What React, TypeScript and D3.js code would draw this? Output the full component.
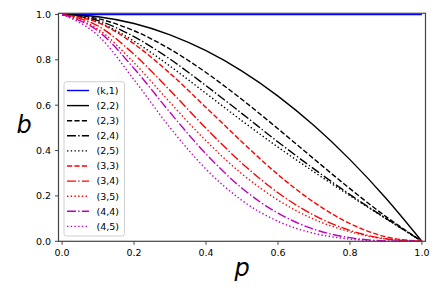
import * as d3 from "d3";

// p grid and curve values
const pValues = [0, 0.1, 0.2, 0.3, 0.4, 0.5, 0.6, 0.7, 0.8, 0.9, 1.0];
const bK1 = [1, 1, 1, 1, 1, 1, 1, 1, 1, 1, 1];
const b22 = [1, 0.99, 0.96, 0.91, 0.84, 0.75, 0.64, 0.51, 0.36, 0.19, 0];
const b23 = [1, 0.981, 0.928, 0.847, 0.744, 0.625, 0.496, 0.363, 0.232, 0.109, 0];
const b24 = [1, 0.973, 0.902, 0.803, 0.686, 0.563, 0.438, 0.319, 0.206, 0.101, 0];
const b25 = [1, 0.966, 0.882, 0.772, 0.652, 0.531, 0.415, 0.306, 0.201, 0.1, 0];
const b33 = [1, 0.964, 0.87, 0.74, 0.59, 0.438, 0.294, 0.172, 0.078, 0.02, 0];
const b34 = [1, 0.949, 0.824, 0.665, 0.498, 0.344, 0.214, 0.115, 0.048, 0.011, 0];
const b35 = [1, 0.935, 0.787, 0.612, 0.443, 0.297, 0.182, 0.097, 0.042, 0.01, 0];
const b44 = [1, 0.927, 0.762, 0.568, 0.385, 0.234, 0.124, 0.053, 0.016, 0.002, 0];
const b45 = [1, 0.907, 0.712, 0.501, 0.318, 0.18, 0.088, 0.035, 0.01, 0.001, 0];

const seriesLabels = ["(k,1)", "(2,2)", "(2,3)", "(2,4)", "(2,5)", "(3,3)", "(3,4)", "(3,5)", "(4,4)", "(4,5)"];
const xTicks = [0, 0.2, 0.4, 0.6, 0.8, 1.0];
const yTicks = [0, 0.2, 0.4, 0.6, 0.8, 1.0];

const W = 442;
const H = 294;
const left = 58.5, right = 425.5, top = 13.3, bottom = 241.3;
const font = "DejaVu Sans, sans-serif";
const frameColor = "#444";

const LW = 1.4;
const DASH = `${3.7 * LW},${1.6 * LW}`;
const DASHDOT = `${6.4 * LW},${1.6 * LW},${1 * LW},${1.6 * LW}`;
const DOT = `${1 * LW},${1.65 * LW}`;

const series = [
  { label: seriesLabels[0], values: bK1, color: "#0000ff", dash: "" },
  { label: seriesLabels[1], values: b22, color: "#000000", dash: "" },
  { label: seriesLabels[2], values: b23, color: "#000000", dash: DASH },
  { label: seriesLabels[3], values: b24, color: "#000000", dash: DASHDOT },
  { label: seriesLabels[4], values: b25, color: "#000000", dash: DOT },
  { label: seriesLabels[5], values: b33, color: "#ff0000", dash: DASH },
  { label: seriesLabels[6], values: b34, color: "#ff0000", dash: DASHDOT },
  { label: seriesLabels[7], values: b35, color: "#ff0000", dash: DOT },
  { label: seriesLabels[8], values: b44, color: "#bf00bf", dash: DASHDOT },
  { label: seriesLabels[9], values: b45, color: "#bf00bf", dash: DOT },
];

export default function App() {
  const x = d3.scaleLinear().domain([-0.01, 1.01]).range([left, right]);
  const y = d3.scaleLinear().domain([0, 1.005]).range([bottom, top]);

  const line = d3
    .line<number>()
    .x((_, i) => x(pValues[i]))
    .y((d) => y(d))
    .curve(d3.curveMonotoneX);

  // legend box
  const lgX = 64, lgY = 81.7, lgW = 60.5, lgH = 154.3;
  const rowY0 = 90.5, rowStep = 15.1;

  return (
    <svg width={W} height={H} style={{ position: "absolute", left: 0, top: 0 }} fontFamily={font}>
      <rect width={W} height={H} fill="#fff" />

      {series.map((s) => (
        <path
          key={s.label}
          d={line(s.values) ?? ""}
          fill="none"
          stroke={s.color}
          strokeWidth={LW}
          strokeDasharray={s.dash || undefined}
        />
      ))}

      {/* frame */}
      <rect x={left} y={top} width={right - left} height={bottom - top} fill="none" stroke={frameColor} strokeWidth={1.2} />

      {/* x ticks */}
      {xTicks.map((t) => (
        <g key={"x" + t} transform={`translate(${x(t)},${bottom})`}>
          <line y1={0} y2={3.5} stroke={frameColor} strokeWidth={1} />
          <text y={15} textAnchor="middle" fontSize={9.5} fill="#000">
            {t.toFixed(1)}
          </text>
        </g>
      ))}

      {/* y ticks */}
      {yTicks.map((t) => (
        <g key={"y" + t} transform={`translate(${left},${y(t)})`}>
          <line x1={0} x2={-3.5} stroke={frameColor} strokeWidth={1} />
          <text x={-7.5} dy="0.35em" textAnchor="end" fontSize={9.5} fill="#000">
            {t.toFixed(1)}
          </text>
        </g>
      ))}

      {/* axis labels */}
      <text x={242} y={276} textAnchor="middle" fontSize={24} fontStyle="italic">
        p
      </text>
      <text x={24} y={133} textAnchor="middle" fontSize={24} fontStyle="italic">
        b
      </text>

      {/* legend */}
      <rect x={lgX} y={lgY} width={lgW} height={lgH} rx={2.5} fill="#fff" fillOpacity={0.8} stroke="#d0d0d0" strokeWidth={1} />
      {series.map((s, i) => {
        const ry = rowY0 + i * rowStep;
        return (
          <g key={"lg" + s.label}>
            <line x1={67} x2={89} y1={ry} y2={ry} stroke={s.color} strokeWidth={LW} strokeDasharray={s.dash || undefined} />
            <text x={96.5} y={ry} dy="0.35em" fontSize={9.5} fill="#000">
              {s.label}
            </text>
          </g>
        );
      })}
    </svg>
  );
}
